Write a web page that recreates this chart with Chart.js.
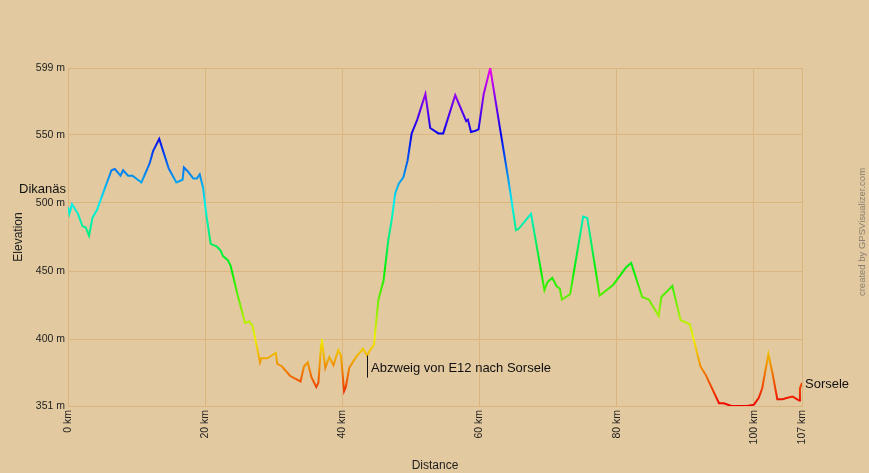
<!DOCTYPE html>
<html>
<head>
<meta charset="utf-8">
<script src="https://cdn.jsdelivr.net/npm/chart.js@4.4.0/dist/chart.umd.min.js"></script>
<style>
  html, body { margin: 0; padding: 0; background: #e2c9a0; }
  #wrap { width: 869px; height: 473px; }
</style>
</head>
<body>
<div id="wrap"><canvas id="profile" width="869" height="473"></canvas></div>
<script>
// track profile
const distKm = [0, 0.2, 0.58, 1.46, 2.1, 2.58, 3.07, 3.56, 4.23, 5.1, 6.34, 6.82, 7.65, 8.03, 8.76, 9.4,
  10.7, 11.9, 12.4, 13.3, 14.0, 14.7, 15.8, 16.7, 16.9, 17.5, 18.25, 18.8, 19.2, 19.7, 20.2, 20.8,
  21.7, 22.25, 22.6, 23.3, 23.7, 24.7, 25.8, 26.4, 26.9, 28.0, 28.2, 29.05, 30.3, 30.5, 31.2, 32.4,
  33.9, 34.4, 34.95, 35.5, 36.2, 36.5, 36.9, 37.0, 37.5, 38.1, 38.7, 39.4, 39.8, 40.25, 40.5, 41.0,
  42.0, 43.0, 43.6, 44.05, 44.6, 45.25, 46.0, 46.7, 47.2, 47.7, 48.2, 48.9, 49.5, 50.1, 50.9, 52.1,
  52.8, 54.0, 54.7, 56.45, 58.05, 58.3, 58.75, 59.4, 59.85, 60.6, 61.55, 63.0, 64.2, 65.3, 65.7,
  67.5, 69.45, 69.9, 70.6, 71.2, 71.7, 72.0, 73.2, 75.1, 75.7, 77.5, 79.5, 81.4, 82.1, 83.7, 84.7,
  86.1, 86.5, 88.1, 89.3, 90.65, 92.2, 92.95, 94.9, 95.6, 96.7, 99.0, 100.0, 100.7, 101.2, 102.1,
  102.7, 103.4, 104.15, 104.9, 105.6, 105.95, 106.6, 106.7, 107];
const elevM = [497, 492, 499, 492, 483, 482, 476, 489, 495, 507, 524, 525, 520, 524, 520, 520,
  515, 529, 538, 547, 536, 525, 515, 517, 526, 523, 518, 518, 521, 511, 490, 470,
  468, 465, 461, 458, 454, 433, 412, 413, 410, 383, 386, 386, 390, 382, 380, 373,
  369, 380, 383, 372, 365, 368, 396, 400, 379, 387, 381, 392, 388, 362, 365, 379,
  387, 393, 388, 392, 396, 429, 443, 473, 488, 507, 514, 519, 531, 551, 561, 580,
  555, 551, 551, 579, 560, 561, 552, 553, 554, 580, 599, 554, 517, 480, 481,
  492, 436, 442, 445, 439, 437, 429, 433, 490, 489, 432, 440, 453, 456, 431, 429,
  417, 431, 439, 414, 411, 380, 374, 353, 353, 351, 351, 352, 357, 364, 389,
  375, 356, 356, 357, 358, 357, 355, 364, 368];

const xTicks = [0, 20, 40, 60, 80, 100, 107];
const yTicks = [351, 400, 450, 500, 550, 599];

// waypoints
const wptNames = ['Dikanäs', 'Abzweig von E12 nach Sorsele', 'Sorsele'];
const wptKm = [0, 43.6, 107];
const wptElev = [510, 388, 367];

const gridCol = '#dbb57e';
const textCol = '#1e1e1e';
const minE = 351, maxE = 599;

// vertical rainbow: red at the lowest point, magenta at the highest
let grad = null;
function elevGradient(c) {
    const area = c.chart.chartArea;
    if (!area) return '#00c0c0';
    if (grad) return grad;
    const ys = c.chart.scales.y;
    grad = c.chart.ctx.createLinearGradient(0, ys.getPixelForValue(minE), 0, ys.getPixelForValue(maxE));
    for (let i = 0; i <= 30; i++) {
        const t = i / 30;
        grad.addColorStop(t, 'hsl(' + (t * 300).toFixed(1) + ', 100%, 47%)');
    }
    return grad;
}

const annotations = {
    id: 'annotations',
    afterDatasetsDraw(chart) {
        const ctx = chart.ctx;
        const xs = chart.scales.x, ys = chart.scales.y;
        ctx.save();
        ctx.font = '13px "Liberation Sans", Arial, sans-serif';
        ctx.fillStyle = '#111';
        ctx.textBaseline = 'middle';
        for (let i = 0; i < wptNames.length; i++) {
            const px = xs.getPixelForValue(wptKm[i]);
            const py = ys.getPixelForValue(wptElev[i]);
            if (i === 0) {
                ctx.textAlign = 'right';
                ctx.fillText(wptNames[i], px - 2, py);
            } else if (i === wptNames.length - 1) {
                ctx.textAlign = 'left';
                ctx.fillText(wptNames[i], px + 3, py);
            } else {
                ctx.strokeStyle = '#111';
                ctx.lineWidth = 1;
                ctx.beginPath();
                ctx.moveTo(Math.round(px) + 0.5, py);
                ctx.lineTo(Math.round(px) + 0.5, py + 22);
                ctx.stroke();
                ctx.textAlign = 'left';
                ctx.fillText(wptNames[i], px + 4, py + 13);
            }
        }
        // credit line on the right edge
        ctx.translate(862, 232);
        ctx.rotate(-Math.PI / 2);
        ctx.textAlign = 'center';
        ctx.font = '9.5px "Liberation Sans", Arial, sans-serif';
        ctx.fillStyle = '#8a8070';
        ctx.fillText('created by GPSVisualizer.com', 0, 0);
        ctx.restore();
    }
};

const profile = document.getElementById('profile').getContext('2d');

const profile_chart = new Chart(profile, {
    type: 'line',
    data: {
        datasets: [{
            data: distKm.map((k, i) => ({ x: k, y: elevM[i] })),
            borderWidth: 2,
            pointRadius: 0,
            tension: 0,
            borderColor: elevGradient
        }]
    },
    options: {
        responsive: false,
        animation: false,
        layout: { padding: { left: 0, right: 67, top: 68, bottom: 0 } },
        plugins: {
            legend: { display: false },
            tooltip: { enabled: false }
        },
        scales: {
            x: {
                type: 'linear',
                min: 0,
                max: 107,
                afterBuildTicks: s => { s.ticks = xTicks.map(v => ({ value: v })); },
                afterFit: s => { s.height = 67; },
                grid: { color: gridCol, drawTicks: false },
                border: { color: gridCol },
                ticks: {
                    autoSkip: false,
                    minRotation: 90,
                    maxRotation: 90,
                    padding: 4,
                    color: textCol,
                    font: { family: '"Liberation Sans", Arial, sans-serif', size: 10.5 },
                    callback: v => v + ' km'
                },
                title: {
                    display: true,
                    text: 'Distance',
                    color: textCol,
                    padding: { top: 0, bottom: 0 },
                    font: { family: '"Liberation Sans", Arial, sans-serif', size: 12 }
                }
            },
            y: {
                min: minE,
                max: maxE,
                afterBuildTicks: s => { s.ticks = yTicks.map(v => ({ value: v })); },
                afterFit: s => { s.width = 68; },
                grid: { color: gridCol, drawTicks: false },
                border: { color: gridCol },
                ticks: {
                    padding: 3,
                    color: textCol,
                    font: { family: '"Liberation Sans", Arial, sans-serif', size: 10.5 },
                    callback: v => v + ' m'
                },
                title: {
                    display: true,
                    text: 'Elevation',
                    color: textCol,
                    padding: { top: 11, bottom: 0 },
                    font: { family: '"Liberation Sans", Arial, sans-serif', size: 12 }
                }
            }
        }
    },
    plugins: [annotations]
});
</script>
</body>
</html>
